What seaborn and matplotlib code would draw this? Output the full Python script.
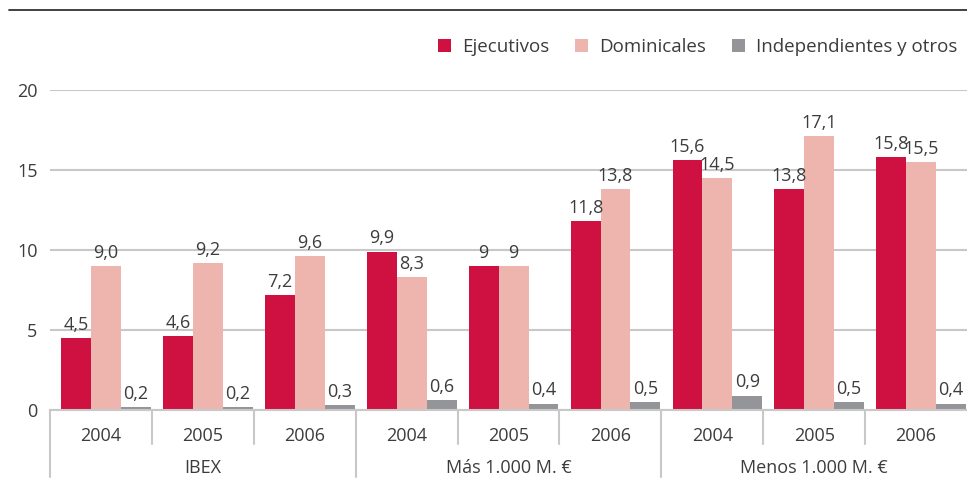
import pandas as pd
import matplotlib
matplotlib.use("Agg")
import matplotlib.pyplot as plt
from matplotlib.patches import Patch
from matplotlib.lines import Line2D
import matplotlib.transforms as mtransforms
import seaborn as sns

# DATA
grupos = ["IBEX", "Más 1.000 M. €", "Menos 1.000 M. €"]
anios = ["2004", "2005", "2006"]
series = ["Ejecutivos", "Dominicales", "Independientes y otros"]

ejecutivos = [4.5, 4.6, 7.2, 9.9, 9, 11.8, 15.6, 13.8, 15.8]
dominicales = [9.0, 9.2, 9.6, 8.3, 9, 13.8, 14.5, 17.1, 15.5]
independientes = [0.2, 0.2, 0.3, 0.6, 0.4, 0.5, 0.9, 0.5, 0.4]

etiquetas_ejecutivos = ["4,5", "4,6", "7,2", "9,9", "9", "11,8", "15,6", "13,8", "15,8"]
etiquetas_dominicales = ["9,0", "9,2", "9,6", "8,3", "9", "13,8", "14,5", "17,1", "15,5"]
etiquetas_independientes = ["0,2", "0,2", "0,3", "0,6", "0,4", "0,5", "0,9", "0,5", "0,4"]

yticks = [0, 5, 10, 15, 20]

colores = ["#CE1141", "#EEB5AE", "#939598"]
texto = "#3c3c3c"
gris = "#c8c8c8"

# long table for seaborn
claves = [f"{g} {a}" for g in grupos for a in anios]
df = pd.concat([
    pd.DataFrame({"clave": claves, "serie": series[0], "valor": ejecutivos}),
    pd.DataFrame({"clave": claves, "serie": series[1], "valor": dominicales}),
    pd.DataFrame({"clave": claves, "serie": series[2], "valor": independientes}),
])

sns.set_theme(style="white")
plt.rcParams["font.family"] = ["Open Sans", "DejaVu Sans"]

W, H = 967, 492
fig = plt.figure(figsize=(W / 100, H / 100), dpi=100)
ax_left, ax_right, ax_top, ax_bot = 50, 967, 90, 410
ax = fig.add_axes([ax_left / W, 1 - ax_bot / H, (ax_right - ax_left) / W, (ax_bot - ax_top) / H])

sns.barplot(
    data=df,
    x="clave",
    y="valor",
    hue="serie",
    hue_order=series,
    order=claves,
    palette=colores,
    width=0.88,
    saturation=1,
    linewidth=0,
    legend=False,
    ax=ax
)

shift = 0.05
ax.set_xlim(-0.5 - shift, len(claves) - 0.5 - shift)
ax.set_ylim(0, 20)
ax.set_yticks(yticks)
ax.set_yticklabels([str(t) for t in yticks])
ax.tick_params(axis="y", length=0, pad=9, labelsize=13, labelcolor=texto)
ax.set_xticks([])
ax.set_xlabel("")
ax.set_ylabel("")
ax.yaxis.grid(True, color=gris, lw=1.5)
ax.set_axisbelow(True)
for s in ["top", "right", "left"]:
    ax.spines[s].set_visible(False)
ax.spines["bottom"].set_color(gris)
ax.spines["bottom"].set_linewidth(1.5)

# value labels
for cont, labs in zip(ax.containers, [etiquetas_ejecutivos, etiquetas_dominicales, etiquetas_independientes]):
    ax.bar_label(cont, labels=labs, padding=3, fontsize=13, color=texto)

# category axis below
trans = mtransforms.blended_transform_factory(ax.transData, ax.transAxes)

def ax_y(py):
    return (ax_bot - py) / (ax_bot - ax_top)

for i in range(len(claves)):
    x = i - 0.5 - shift
    bottom = 477 if i % 3 == 0 else 444
    ax.plot([x, x], [0, ax_y(bottom)], color=gris, lw=1.5, transform=trans, clip_on=False)
    ax.text(i - shift, ax_y(436), anios[i % 3], ha="center", va="center",
            fontsize=13, color=texto, transform=trans)

for j, g in enumerate(grupos):
    ax.text(3 * j + 1 - shift, ax_y(468), g, ha="center", va="center",
            fontsize=13, color=texto, transform=trans)

# legend
handles = [Patch(facecolor=c, edgecolor="none") for c in colores]
fig.legend(
    handles, series,
    loc="center left",
    bbox_to_anchor=(438 / W, 1 - 47 / H),
    ncol=3,
    frameon=False,
    fontsize=13.5,
    labelcolor=texto,
    handlelength=0.7,
    handleheight=0.7,
    handletextpad=0.6,
    columnspacing=1.35,
    borderpad=0,
    borderaxespad=0
)

# top rule
fig.add_artist(Line2D([9 / W, 1], [1 - 10 / H, 1 - 10 / H], color="#333333", lw=1.3))

fig.savefig("out.png", dpi=100)
plt.close()
